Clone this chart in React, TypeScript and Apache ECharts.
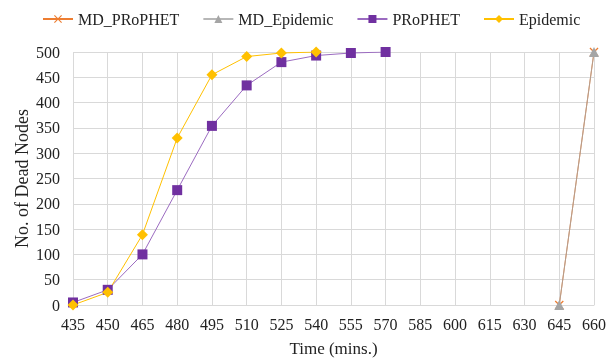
import React, { useEffect, useRef } from "react";
import * as echarts from "echarts";

const xTicks = [435, 450, 465, 480, 495, 510, 525, 540, 555, 570, 585, 600, 615, 630, 645, 660];
const mdTimes = [645, 660];
const mdProphet = [0, 500];
const mdEpidemic = [0, 500];
const prophetTimes = [435, 450, 465, 480, 495, 510, 525, 540, 555, 570];
const prophet = [5, 30, 100, 227, 354, 434, 480, 493, 498, 500];
const epidemicTimes = [435, 450, 465, 480, 495, 510, 525, 540];
const epidemic = [0, 25, 139, 330, 455, 491, 498, 500];

const pair = (xs: number[], ys: number[]) => xs.map((x, i) => [x, ys[i]]);

const crossPath =
  "path://M1,0 L5,4 L9,0 L10,1 L6,5 L10,9 L9,10 L5,6 L1,10 L0,9 L4,5 L0,1 Z";

export default function App() {
  const ref = useRef<HTMLDivElement>(null);
  useEffect(() => {
    if (!ref.current) return;
    const chart = echarts.init(ref.current, undefined, { renderer: "svg" });
    const font = "Liberation Serif";
    chart.setOption({
      animation: false,
      textStyle: { fontFamily: font },
      legend: {
        top: 11,
        left: 42,
        padding: 0,
        itemWidth: 30,
        itemHeight: 10,
        itemGap: 23,
        textStyle: { fontFamily: font, fontSize: 16, color: "#222" },
      },
      grid: { left: 73, right: 19, top: 52, bottom: 53, outerBoundsMode: "none", containLabel: false },
      xAxis: {
        type: "value",
        min: xTicks[0],
        max: xTicks[xTicks.length - 1],
        interval: 15,
        name: "Time (mins.)",
        nameLocation: "middle",
        nameGap: 35,
        nameMoveOverlap: false,
        nameTextStyle: { fontFamily: font, fontSize: 17, color: "#222" },
        axisLine: { show: true, lineStyle: { color: "#d9d9d9" } },
        axisTick: { show: false },
        axisLabel: { fontFamily: font, fontSize: 16, color: "#222", margin: 11 },
        splitLine: { show: true, lineStyle: { color: "#d9d9d9" } },
      },
      yAxis: {
        type: "value",
        min: 0,
        max: 500,
        interval: 50,
        name: "No. of Dead Nodes",
        nameLocation: "middle",
        nameGap: 42,
        nameMoveOverlap: false,
        nameTextStyle: { fontFamily: font, fontSize: 18, color: "#222" },
        axisLine: { show: false },
        axisTick: { show: false },
        axisLabel: { fontFamily: font, fontSize: 16, color: "#222", margin: 13 },
        splitLine: { show: true, lineStyle: { color: "#d9d9d9" } },
      },
      series: [
        {
          name: "MD_PRoPHET",
          type: "line",
          data: pair(mdTimes, mdProphet),
          symbol: crossPath,
          symbolSize: 9,
          color: "#ED7D31",
          lineStyle: { width: 1, color: "#ED7D31" },
          itemStyle: { color: "#ED7D31" },
        },
        {
          name: "MD_Epidemic",
          type: "line",
          data: pair(mdTimes, mdEpidemic),
          symbol: "triangle",
          symbolSize: 10,
          color: "#A5A5A5",
          lineStyle: { width: 1, color: "#A5A5A5", opacity: 0.8 },
          itemStyle: { color: "#A5A5A5" },
        },
        {
          name: "PRoPHET",
          type: "line",
          data: pair(prophetTimes, prophet),
          symbol: "rect",
          symbolSize: 10,
          color: "#7030A0",
          lineStyle: { width: 1, color: "#9B6BC0" },
          itemStyle: { color: "#7030A0" },
        },
        {
          name: "Epidemic",
          type: "line",
          data: pair(epidemicTimes, epidemic),
          symbol: "diamond",
          symbolSize: 11,
          color: "#FFC000",
          lineStyle: { width: 1, color: "#FFC000" },
          itemStyle: { color: "#FFC000" },
        },
      ],
    });
    return () => chart.dispose();
  }, []);
  return (
    <div
      ref={ref}
      style={{ position: "fixed", left: 0, top: 0, width: 613, height: 358 }}
    />
  );
}
